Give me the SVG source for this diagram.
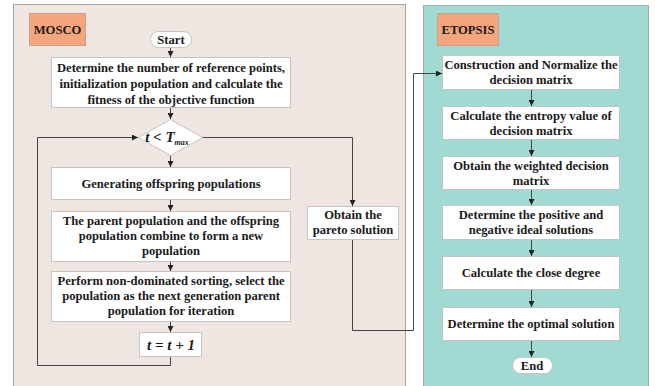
<svg xmlns="http://www.w3.org/2000/svg" width="655" height="386" viewBox="0 0 655 386">
<defs>
<marker id="ah" viewBox="0 0 10 10" refX="10" refY="5" markerWidth="6" markerHeight="6" orient="auto" markerUnits="userSpaceOnUse">
<path d="M0,0 L10,5 L0,10 z" fill="#222"/>
</marker>
<style>
.box{fill:#fff;stroke:#c4c4c4;stroke-width:1}
.lbl{fill:#f4a57b;stroke:#c9a08a;stroke-width:1}
.t{font-family:"Liberation Serif","Times New Roman",serif;font-weight:bold;font-size:12.6px;fill:#1a1a1a;text-anchor:middle}
.m{font-size:15px;font-style:italic}
.c{fill:none;stroke:#444;stroke-width:1}
</style>
</defs>
<rect width="655" height="386" fill="#fff"/>
<g id="panel-mosco"><rect x="13.5" y="4.5" width="392" height="390" fill="#f0e6e1" stroke="#a9a29e"/></g>
<g id="panel-etopsis"><rect x="423.5" y="5.5" width="225" height="390" fill="#a0dad2" stroke="#8fb5b0"/></g>
<g id="label-mosco"><rect class="lbl" x="29.5" y="13.5" width="56" height="32"/><text class="t" x="57.5" y="34">MOSCO</text></g>
<g id="label-etopsis"><rect class="lbl" x="437.5" y="13.5" width="61" height="32"/><text class="t" x="468" y="34">ETOPSIS</text></g>

<g id="connectors">
<line class="c" x1="170.5" y1="47" x2="170.5" y2="57" marker-end="url(#ah)"/>
<line class="c" x1="170.5" y1="107" x2="170.5" y2="119" marker-end="url(#ah)"/>
<line class="c" x1="170.5" y1="155" x2="170.5" y2="167" marker-end="url(#ah)"/>
<line class="c" x1="170.5" y1="200" x2="170.5" y2="211" marker-end="url(#ah)"/>
<line class="c" x1="170.5" y1="261" x2="170.5" y2="271" marker-end="url(#ah)"/>
<line class="c" x1="170.5" y1="321" x2="170.5" y2="332" marker-end="url(#ah)"/>
<polyline class="c" points="170.5,356 170.5,365.5 37.5,365.5 37.5,137.5 138,137.5" marker-end="url(#ah)"/>
<polyline class="c" points="202,137.5 352.5,137.5 352.5,206" marker-end="url(#ah)"/>
<polyline class="c" points="352.5,239 352.5,330.5 413.5,330.5 413.5,73.5 442,73.5" marker-end="url(#ah)"/>
<line class="c" x1="531.5" y1="89" x2="531.5" y2="106" marker-end="url(#ah)"/>
<line class="c" x1="531.5" y1="139" x2="531.5" y2="156" marker-end="url(#ah)"/>
<line class="c" x1="531.5" y1="189" x2="531.5" y2="205" marker-end="url(#ah)"/>
<line class="c" x1="531.5" y1="239" x2="531.5" y2="256" marker-end="url(#ah)"/>
<line class="c" x1="531.5" y1="289" x2="531.5" y2="307" marker-end="url(#ah)"/>
<line class="c" x1="531.5" y1="340" x2="531.5" y2="357" marker-end="url(#ah)"/>
</g>

<g id="start"><rect class="box" x="150.5" y="31.5" width="41" height="16" rx="8"/><text class="t" x="171" y="44">Start</text></g>
<g id="init"><rect class="box" x="51.5" y="57.5" width="239" height="50"/>
<text class="t" x="171" y="72">Determine the number of reference points,</text>
<text class="t" x="171" y="88">initialization population and calculate the</text>
<text class="t" x="171" y="104">fitness of the objective function</text></g>
<g id="cond"><polygon points="170.5,119.5 202.5,137.5 170.5,155.5 138.5,137.5" fill="#fff" stroke="#c4c4c4"/>
<text class="t m" x="167" y="142">t &lt; T<tspan font-size="8" dy="3">max</tspan></text></g>
<g id="gen"><rect class="box" x="51.5" y="167.5" width="239" height="32"/><text class="t" x="171" y="188">Generating offspring populations</text></g>
<g id="combine"><rect class="box" x="51.5" y="211.5" width="239" height="50"/>
<text class="t" x="171" y="225">The parent population and the offspring</text>
<text class="t" x="171" y="240">population combine to form a new</text>
<text class="t" x="171" y="255">population</text></g>
<g id="sort"><rect class="box" x="51.5" y="271.5" width="239" height="50"/>
<text class="t" x="171" y="285">Perform non-dominated sorting, select the</text>
<text class="t" x="171" y="300">population as the next generation parent</text>
<text class="t" x="171" y="315">population for iteration</text></g>
<g id="incr"><rect class="box" x="139.5" y="332.5" width="62" height="24"/><text class="t m" x="171" y="350">t = t + 1</text></g>
<g id="pareto"><rect class="box" x="307.5" y="206.5" width="91" height="33"/>
<text class="t" x="353" y="219">Obtain the</text>
<text class="t" x="353" y="234">pareto solution</text></g>

<g id="construct"><rect class="box" x="442.5" y="55.5" width="177" height="34"/>
<text class="t" x="531" y="69">Construction and Normalize the</text>
<text class="t" x="531" y="84">decision matrix</text></g>
<g id="entropy"><rect class="box" x="442.5" y="106.5" width="177" height="33"/>
<text class="t" x="531" y="120">Calculate the entropy value of</text>
<text class="t" x="531" y="135">decision matrix</text></g>
<g id="weighted"><rect class="box" x="442.5" y="156.5" width="177" height="33"/>
<text class="t" x="531" y="170">Obtain the weighted decision</text>
<text class="t" x="531" y="185">matrix</text></g>
<g id="ideal"><rect class="box" x="442.5" y="205.5" width="177" height="34"/>
<text class="t" x="531" y="219">Determine the positive and</text>
<text class="t" x="531" y="234">negative ideal solutions</text></g>
<g id="close"><rect class="box" x="442.5" y="256.5" width="177" height="33"/>
<text class="t" x="531" y="277">Calculate the close degree</text></g>
<g id="optimal"><rect class="box" x="442.5" y="307.5" width="177" height="33"/>
<text class="t" x="531" y="328">Determine the optimal solution</text></g>
<g id="end"><rect class="box" x="512.5" y="357.5" width="40" height="16" rx="8"/><text class="t" x="532" y="370">End</text></g>
</svg>
